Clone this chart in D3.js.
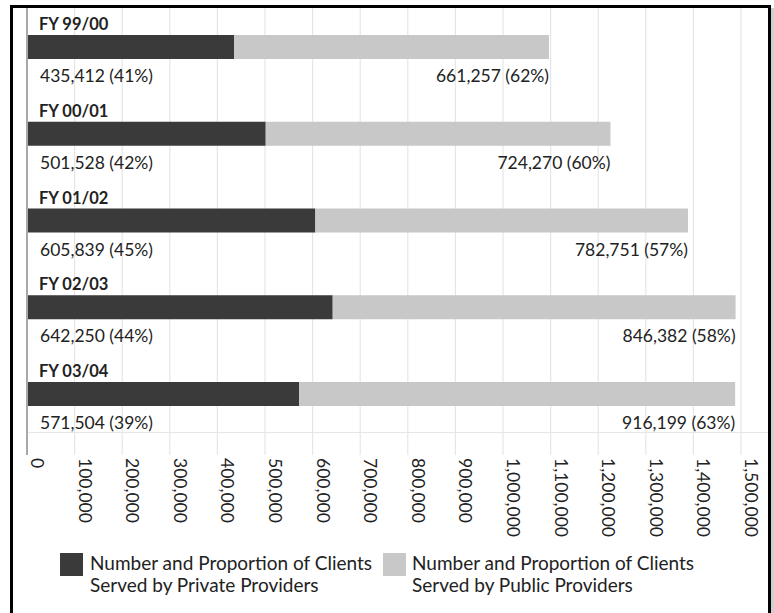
<!DOCTYPE html>
<html><head><meta charset="utf-8">
<script src="https://cdn.jsdelivr.net/npm/d3@7"></script>
<style>body{margin:0;background:#fff}svg{display:block}text{font-family:Lato,"Noto Sans",sans-serif;fill:#222}</style>
</head><body><div id="c"></div>
<script>
const years = ["FY 99/00","FY 00/01","FY 01/02","FY 02/03","FY 03/04"];
const privateVals = [435412, 501528, 605839, 642250, 571504];
const privatePct = ["41%","42%","45%","44%","39%"];
const publicVals = [661257, 724270, 782751, 846382, 916199];
const publicPct = ["62%","60%","57%","58%","63%"];
const tickVals = [0,100000,200000,300000,400000,500000,600000,700000,800000,900000,1000000,1100000,1200000,1300000,1400000,1500000];
const seriesNames = ["Number and Proportion of Clients|Served by Private Providers","Number and Proportion of Clients|Served by Public Providers"];
const colors = ["#3a3a3a","#c8c8c8"];

const W=774,H=613;
const svg=d3.select("#c").append("svg").attr("width",W).attr("height",H);
const x=d3.scaleLinear().domain([0,1500000]).range([27,741]);
const y=d3.scaleBand().domain(years).range([8,441.75]).padding(0);
const fmt=d3.format(",");

// gridlines + tick marks
svg.selectAll("line.grid").data(tickVals.slice(1)).join("line")
  .attr("x1",d=>x(d)).attr("x2",d=>x(d)).attr("y1",7).attr("y2",455)
  .attr("stroke","#e6e6e6").attr("stroke-width",1.2);
svg.append("line").attr("x1",27).attr("x2",768).attr("y1",432.5).attr("y2",432.5)
  .attr("stroke","#e6e6e6").attr("stroke-width",1.2);
// bars
const g=svg.selectAll("g.row").data(years).join("g").attr("class","row")
  .attr("transform",d=>`translate(0,${y(d)})`);
g.append("rect").attr("x",x(0)).attr("y",27).attr("height",24)
  .attr("width",(d,i)=>x(privateVals[i])-x(0)).attr("fill",colors[0]);
g.append("rect").attr("x",(d,i)=>x(privateVals[i])).attr("y",27).attr("height",24)
  .attr("width",(d,i)=>x(privateVals[i]+publicVals[i])-x(privateVals[i])).attr("fill",colors[1]);
g.append("text").attr("x",39).attr("y",22).attr("font-weight","bold").attr("font-size",16.5).text(d=>d);
g.append("text").attr("x",40).attr("y",74).attr("font-size",17.5)
  .text((d,i)=>`${fmt(privateVals[i])} (${privatePct[i]})`);
g.append("text").attr("x",(d,i)=>x(privateVals[i]+publicVals[i])).attr("y",74).attr("font-size",17.5)
  .attr("text-anchor","end").text((d,i)=>`${fmt(publicVals[i])} (${publicPct[i]})`);

// y axis line
svg.append("line").attr("x1",27).attr("x2",27).attr("y1",7).attr("y2",455)
  .attr("stroke","#a8a8a8").attr("stroke-width",2);

// tick labels
svg.selectAll("text.tick").data(tickVals).join("text").attr("class","tick")
  .attr("transform",d=>`translate(${x(d)+4},458) rotate(90)`)
  .attr("font-size",17.5).text(d=>fmt(d));

// legend
const leg=[{x:60,tx:90},{x:383,tx:412}];
leg.forEach((l,i)=>{
  svg.append("rect").attr("x",l.x).attr("y",553).attr("width",23).attr("height",23).attr("fill",colors[i]);
  const t=svg.append("text").attr("x",l.tx).attr("y",570).attr("font-size",19);
  seriesNames[i].split("|").forEach((s,k)=>t.append("tspan").attr("x",l.tx).attr("dy",k?22:0).text(s));
});

// border
svg.append("rect").attr("x",771).attr("y",8).attr("width",3).attr("height",H).attr("fill","#d0d0d0");
svg.append("rect").attr("x",11.5).attr("y",6.5).attr("width",758).attr("height",H+20)
  .attr("fill","none").attr("stroke","#000").attr("stroke-width",3);
</script></body></html>
